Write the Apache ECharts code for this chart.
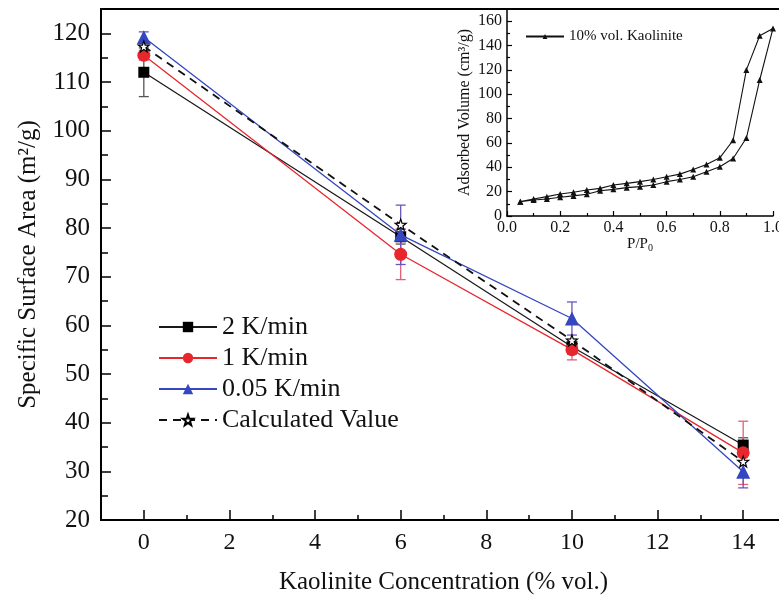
<!DOCTYPE html>
<html>
<head>
<meta charset="utf-8">
<script src="https://cdn.jsdelivr.net/npm/echarts@6/dist/echarts.min.js"></script>
<style>html,body{margin:0;padding:0;background:#fff}#c{width:779px;height:601px}</style>
</head>
<body>
<div id="c"></div>
<script>
// ---- main chart data ----
const concentration = [0, 6, 10, 14];
const sa2K = [112.0, 78.2, 55.6, 35.4];
const sa1K = [115.5, 74.6, 55.0, 33.8];
const sa005 = [119.2, 78.6, 61.4, 29.9];
const saCalc = [117.3, 80.7, 56.9, 32.0];
const err2K = [5.0, 1.5, 1.5, 1.5];
const err1K = [1.0, 5.2, 2.1, 6.5];
const err005 = [1.1, 6.1, 3.4, 3.3];
const xTickLabels = [0, 2, 4, 6, 8, 10, 12, 14];
const xMinorTicks = [1, 3, 5, 7, 9, 11, 13];
const yTickLabels = [20, 30, 40, 50, 60, 70, 80, 90, 100, 110, 120];
const yMinorTicks = [25, 35, 45, 55, 65, 75, 85, 95, 105, 115];

// ---- inset data ----
const relPressure = [0.05, 0.10, 0.15, 0.20, 0.25, 0.30, 0.35, 0.40, 0.45, 0.50, 0.55, 0.60, 0.65, 0.70, 0.75, 0.80, 0.85, 0.90, 0.95, 1.00];
const volAdsorption = [11.8, 13.2, 14.0, 15.4, 16.5, 17.8, 20.8, 21.9, 23.3, 24.1, 25.4, 28.2, 30.0, 32.2, 36.3, 40.4, 47.2, 64.0, 111.7, 154.0];
const volDesorption = [11.8, 14.0, 15.9, 18.1, 19.5, 21.4, 22.7, 25.4, 26.8, 28.2, 30.0, 32.2, 34.4, 38.2, 42.3, 47.8, 62.2, 120.0, 148.0, 154.0];
const insetXTicks = [0, 0.2, 0.4, 0.6, 0.8, 1.0];
const insetXMinor = [0.1, 0.3, 0.5, 0.7, 0.9];
const insetYTicks = [0, 20, 40, 60, 80, 100, 120, 140, 160];
const insetYMinor = [10, 30, 50, 70, 90, 110, 130, 150];

const FONT = "'Liberation Serif','Times New Roman',serif";
const C2K = '#1a1a1a', C1K = '#e8262e', C005 = '#3446c0', CCALC = '#111';

function pairs(xs, ys) { return xs.map((x, i) => [x, ys[i]]); }
function errData(xs, ys, es) { return xs.map((x, i) => [x, ys[i], es[i]]); }

function errSeries(name, data, color) {
  return {
    type: 'custom', name: name + ' err', xAxisIndex: 0, yAxisIndex: 0, z: 1,
    data: data, silent: true,
    renderItem: function (params, api) {
      const x = api.value(0), y = api.value(1), e = api.value(2);
      const top = api.coord([x, y + e]);
      const bot = api.coord([x, y - e]);
      const w = 5;
      const st = { stroke: color, lineWidth: 1.3 };
      return {
        type: 'group', children: [
          { type: 'line', shape: { x1: top[0], y1: top[1], x2: bot[0], y2: bot[1] }, style: st },
          { type: 'line', shape: { x1: top[0] - w, y1: top[1], x2: top[0] + w, y2: top[1] }, style: st },
          { type: 'line', shape: { x1: bot[0] - w, y1: bot[1], x2: bot[0] + w, y2: bot[1] }, style: st }
        ]
      };
    }
  };
}

const insetData = pairs(relPressure, volAdsorption).concat(
  pairs(relPressure, volDesorption).reverse().slice(1)
);

const chart = echarts.init(document.getElementById('c'), null, { renderer: 'canvas' });
chart.setOption({
  backgroundColor: '#fff',
  animation: false,
  textStyle: { fontFamily: FONT },
  grid: [
    { left: 101, top: 9, width: 685, height: 511, show: true, borderColor: '#000', borderWidth: 2, backgroundColor: 'transparent', outerBoundsMode: 'none', containLabel: false },
    { left: 507, top: 9, width: 266, height: 207, show: false, outerBoundsMode: 'none', containLabel: false }
  ],
  legend: [
    {
      data: ['2 K/min', '1 K/min', '0.05 K/min', 'Calculated Value'],
      orient: 'vertical', left: 153, top: 309,
      itemWidth: 58, itemHeight: 13, itemGap: 5,
      textStyle: { fontFamily: FONT, fontSize: 26, color: '#111', lineHeight: 26 }
    },
    {
      data: ['10% vol. Kaolinite'],
      left: 520, top: 24, itemWidth: 38, itemHeight: 6, itemGap: 4,
      textStyle: { fontFamily: FONT, fontSize: 15, color: '#111' }
    }
  ],
  xAxis: [
    {
      gridIndex: 0, type: 'value', min: -1, max: 15, position: 'bottom',
      axisLine: { show: true, onZero: false, lineStyle: { color: '#000', width: 2 } },
      axisTick: { show: true, inside: true, length: 10, customValues: xTickLabels, lineStyle: { color: '#000', width: 1.5 } },
      axisLabel: { show: true, customValues: xTickLabels, fontFamily: FONT, fontSize: 24, color: '#111', margin: 11 },
      splitLine: { show: false },
      name: 'Kaolinite Concentration (% vol.)', nameLocation: 'middle', nameGap: 50,
      nameTextStyle: { fontFamily: FONT, fontSize: 25, color: '#111' }
    },
    {
      gridIndex: 0, type: 'value', min: -1, max: 15, position: 'bottom',
      axisLine: { show: false, onZero: false },
      axisTick: { show: true, inside: true, length: 5, customValues: xMinorTicks, lineStyle: { color: '#000', width: 1.5 } },
      axisLabel: { show: false }, splitLine: { show: false }
    },
    {
      gridIndex: 1, type: 'value', min: 0, max: 1.0, position: 'bottom',
      axisLine: { show: true, onZero: false, lineStyle: { color: '#000', width: 1.5 } },
      axisTick: { show: true, inside: true, length: 5, customValues: insetXTicks, lineStyle: { color: '#000', width: 1.2 } },
      axisLabel: { show: true, customValues: insetXTicks, fontFamily: FONT, fontSize: 16, color: '#111', margin: 4,
        formatter: v => Number(v).toFixed(1) },
      splitLine: { show: false },
      name: 'P/P{s|0}', nameLocation: 'middle', nameGap: 17,
      nameTextStyle: { fontFamily: FONT, fontSize: 15, color: '#111', rich: { s: { fontFamily: FONT, fontSize: 10, padding: [8, 0, 0, 0], color: '#111' } } }
    },
    {
      gridIndex: 1, type: 'value', min: 0, max: 1.0, position: 'bottom',
      axisLine: { show: false, onZero: false },
      axisTick: { show: true, inside: true, length: 3, customValues: insetXMinor, lineStyle: { color: '#000', width: 1.2 } },
      axisLabel: { show: false }, splitLine: { show: false }
    }
  ],
  yAxis: [
    {
      gridIndex: 0, type: 'value', min: 20, max: 125, position: 'left',
      axisLine: { show: true, onZero: false, lineStyle: { color: '#000', width: 2 } },
      axisTick: { show: true, inside: true, length: 10, customValues: yTickLabels, lineStyle: { color: '#000', width: 1.5 } },
      axisLabel: { show: true, customValues: yTickLabels, fontFamily: FONT, fontSize: 25, color: '#111', margin: 11 },
      splitLine: { show: false },
      name: 'Specific Surface Area (m²/g)', nameLocation: 'middle', nameGap: 60, nameRotate: 90,
      nameTextStyle: { fontFamily: FONT, fontSize: 25, color: '#111' }
    },
    {
      gridIndex: 0, type: 'value', min: 20, max: 125, position: 'left',
      axisLine: { show: false, onZero: false },
      axisTick: { show: true, inside: true, length: 7, customValues: yMinorTicks, lineStyle: { color: '#000', width: 1.5 } },
      axisLabel: { show: false }, splitLine: { show: false }
    },
    {
      gridIndex: 1, type: 'value', min: 0, max: 170, position: 'left',
      axisLine: { show: true, onZero: false, lineStyle: { color: '#000', width: 1.5 } },
      axisTick: { show: true, inside: true, length: 5, customValues: insetYTicks, lineStyle: { color: '#000', width: 1.2 } },
      axisLabel: { show: true, customValues: insetYTicks, fontFamily: FONT, fontSize: 16, color: '#111', margin: 5 },
      splitLine: { show: false },
      name: 'Adsorbed Volume (cm³/g)', nameLocation: 'middle', nameGap: 34, nameRotate: 90,
      nameTextStyle: { fontFamily: FONT, fontSize: 16, color: '#111' }
    },
    {
      gridIndex: 1, type: 'value', min: 0, max: 170, position: 'left',
      axisLine: { show: false, onZero: false },
      axisTick: { show: true, inside: true, length: 3, customValues: insetYMinor, lineStyle: { color: '#000', width: 1.2 } },
      axisLabel: { show: false }, splitLine: { show: false }
    }
  ],
  series: [
    errSeries('2 K/min', errData(concentration, sa2K, err2K), '#555'),
    errSeries('1 K/min', errData(concentration, sa1K, err1K), '#e0607a'),
    errSeries('0.05 K/min', errData(concentration, sa005, err005), '#6a55c0'),
    {
      name: '2 K/min', type: 'line', xAxisIndex: 0, yAxisIndex: 0, z: 3,
      data: pairs(concentration, sa2K), symbol: 'rect', symbolSize: 11,
      lineStyle: { color: C2K, width: 1.3 }, itemStyle: { color: '#000' }
    },
    {
      name: '1 K/min', type: 'line', xAxisIndex: 0, yAxisIndex: 0, z: 4,
      data: pairs(concentration, sa1K), symbol: 'circle', symbolSize: 13,
      lineStyle: { color: C1K, width: 1.3 }, itemStyle: { color: C1K }
    },
    {
      name: '0.05 K/min', type: 'line', xAxisIndex: 0, yAxisIndex: 0, z: 5,
      data: pairs(concentration, sa005), symbol: 'triangle', symbolSize: 14,
      lineStyle: { color: C005, width: 1.3 }, itemStyle: { color: C005 }
    },
    {
      name: 'Calculated Value', type: 'line', xAxisIndex: 0, yAxisIndex: 0, z: 6,
      data: pairs(concentration, saCalc), symbol: 'path://M0,-10 L2.35,-3.24 L9.51,-3.09 L3.8,1.24 L5.88,8.09 L0,4 L-5.88,8.09 L-3.8,1.24 L-9.51,-3.09 L-2.35,-3.24 Z',
      symbolSize: 11, showAllSymbol: true,
      lineStyle: { color: CCALC, width: 1.8, type: [8, 6] },
      itemStyle: { color: '#fff', borderColor: '#000', borderWidth: 1.2 }
    },
    {
      name: '10% vol. Kaolinite', type: 'line', xAxisIndex: 2, yAxisIndex: 2, z: 3,
      data: insetData, symbol: 'triangle', symbolSize: 6,
      lineStyle: { color: '#111', width: 1.1 }, itemStyle: { color: '#111' }
    }
  ]
});
</script>
</body>
</html>
